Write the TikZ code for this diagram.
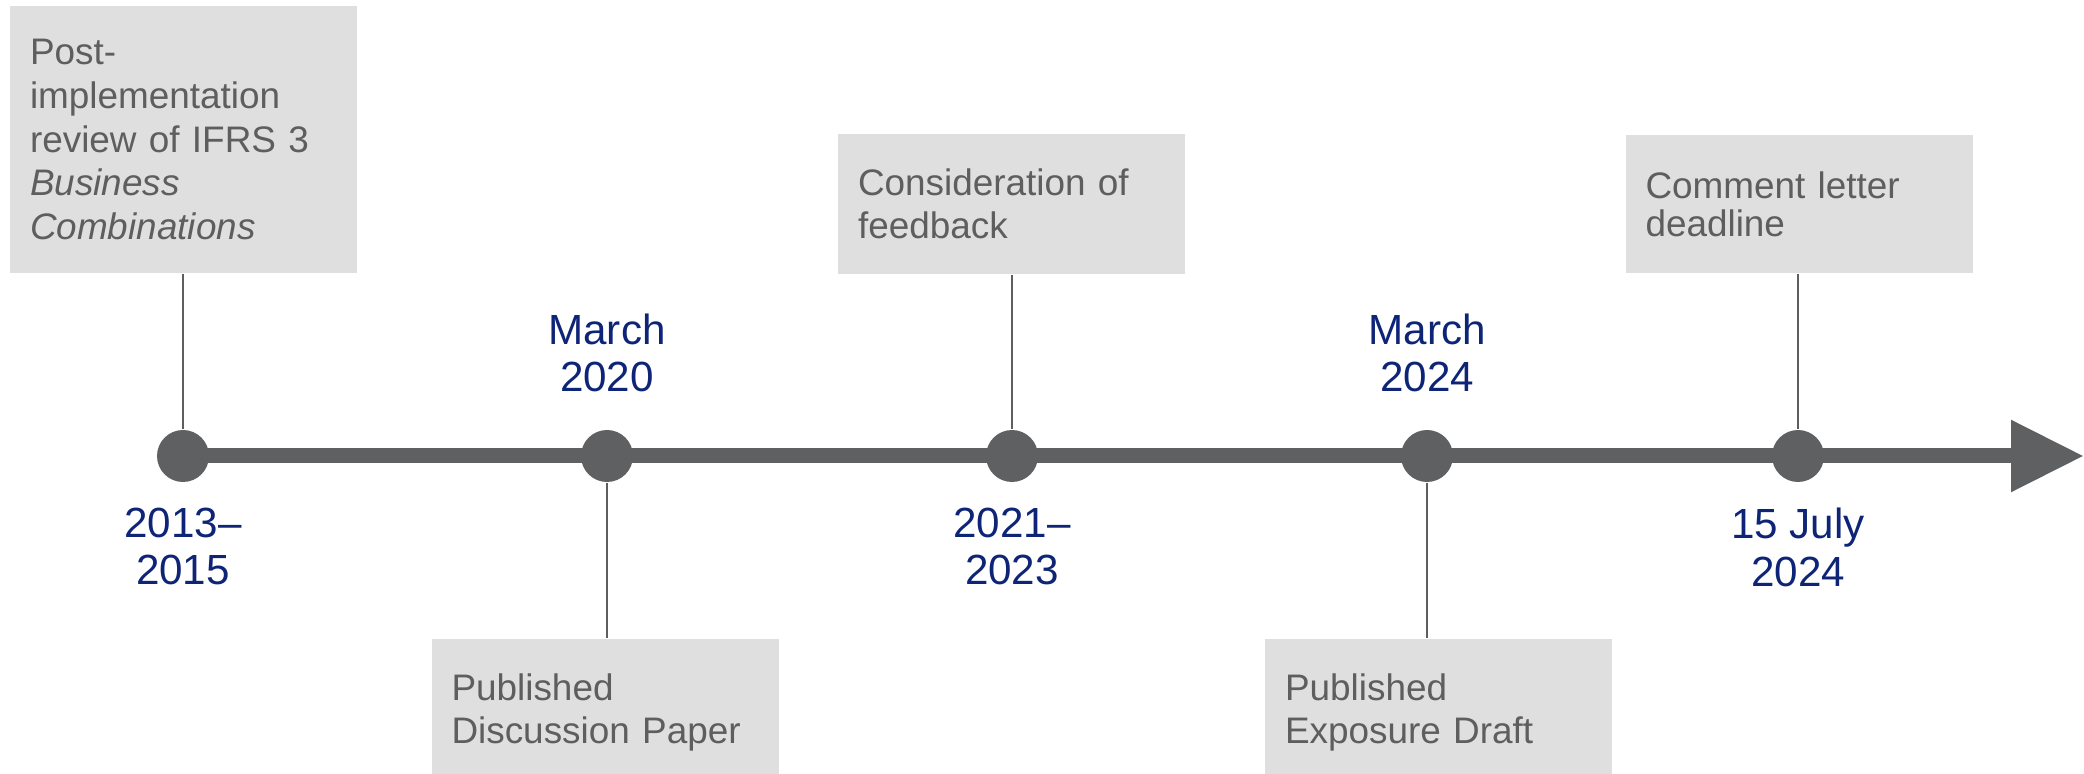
\documentclass[tikz,border=0pt]{standalone}
\usepackage{fontspec}
\setmainfont{Liberation Sans}
\usetikzlibrary{arrows.meta,positioning}
\definecolor{boxgrey}{HTML}{DFDFDF}
\definecolor{txtgrey}{HTML}{5E5E5E}
\definecolor{linegrey}{HTML}{5F6062}
\definecolor{datecol}{HTML}{0E2577}

\begin{document}
\begin{tikzpicture}[
	evbox/.style={fill=boxgrey,text=txtgrey,text width=3.07cm,inner xsep=0.2cm,inner ysep=0pt,minimum width=3.47cm,align=left,font=\fontsize{10.5}{12.4}\selectfont},
	dot/.style={circle,fill=linegrey,minimum size=0.52cm,inner sep=0pt},
	datelbl/.style={text=datecol,align=center,inner sep=0pt,font=\fontsize{12}{13.4}\selectfont},
	link/.style={draw=txtgrey,line width=0.02cm}
	]
	\useasboundingbox (0,0) rectangle (20.84,-7.74);
	
	\node[evbox,minimum height=2.67cm] (review) at (1.835,-1.395) {Post-\\implementation\\review of IFRS 3\\\textit{Business}\\\textit{Combinations}};
	\node[evbox,minimum height=1.47cm] (paper) at (6.05,-7.125) {Published\\Discussion Paper};
	\node[evbox,minimum height=1.4cm] (feedback) at (10.115,-2.04) {Consideration of\\feedback};
	\node[evbox,minimum height=1.47cm] (draft) at (14.385,-7.125) {Published\\Exposure Draft};
	\node[evbox,minimum height=1.38cm,font=\fontsize{10.5}{10.9}\selectfont] (deadline) at (17.99,-2.04) {Comment letter\\deadline};
	
	\node[dot] (d1) at (1.83,-4.56) {};
	\node[dot] (d2) at (6.07,-4.56) {};
	\node[dot] (d3) at (10.12,-4.56) {};
	\node[dot] (d4) at (14.27,-4.56) {};
	\node[dot] (d5) at (17.98,-4.56) {};
	\coordinate (tip) at (20.84,-4.56);
	
	\draw[link] (review.south -| d1) -- (d1.north);
	\draw[link] (d2.south) -- (paper.north -| d2);
	\draw[link] (feedback.south -| d3) -- (d3.north);
	\draw[link] (d4.south) -- (draft.north -| d4);
	\draw[link] (deadline.south -| d5) -- (d5.north);
	
	\draw[linegrey,line width=0.15cm,-{Triangle[length=0.73cm,width=0.68cm]}] (d1.center) -- (tip);
	
	\node[datelbl,below=0.25cm of d1] (when1) {2013–\\2015};
	\node[datelbl,above=0.37cm of d2] (when2) {March\\2020};
	\node[datelbl,below=0.25cm of d3] (when3) {2021–\\2023};
	\node[datelbl,above=0.37cm of d4] (when4) {March\\2024};
	\node[datelbl,below=0.25cm of d5] (when5) {15 July\\2024};
\end{tikzpicture}
\end{document}
